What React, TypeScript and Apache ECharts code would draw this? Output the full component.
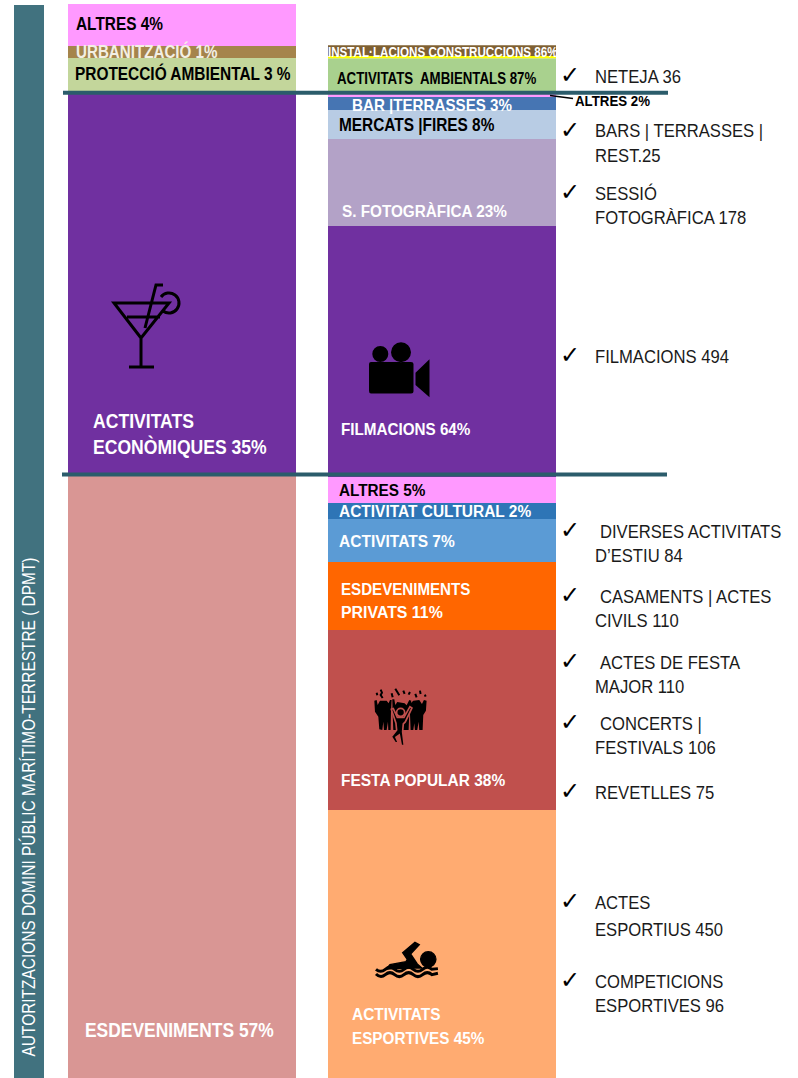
import React, { useEffect, useRef } from "react";
import * as echarts from "echarts";

const barCategories = ["Domini", "Detall"];

// bottom-to-top stacking order
const leftNames = ["Esdeveniments", "Activitats econòmiques", "Protecció ambiental", "Urbanització", "Altres"];
const leftValues = [56.14, 35.66, 3.17, 1.12, 3.91];
const leftColors = ["#d99694", "#7030a0", "#c3d69b", "#a5844b", "#ff99ff"];

const rightNames = [
  "Activitats esportives", "Festa popular", "Esdeveniments privats", "Activitats", "Activitat cultural", "Altres",
  "Filmacions", "S. fotogràfica", "Mercats", "Bar terrasses", "Altres 2", "Activitats ambientals", "Instal·lacions 2", "Instal·lacions",
];
const rightValues = [24.95, 16.76, 6.33, 4.0, 1.49, 2.42, 23.37, 8.1, 2.7, 1.21, 0.28, 3.35, 0.19, 1.02];
const rightColors = [
  "#ffab71", "#c0504d", "#ff6600", "#5b9bd5", "#2e75b6", "#ff99ff", "#7030a0", "#b3a2c7", "#b8cce4", "#4675b3",
  "#ff99ff", "#a9d18e", "#ffff00", "#7f6032",
];

const sideTitle = "AUTORITZACIONS DOMINI PÚBLIC MARÍTIMO-TERRESTRE ( DPMT)";

const barLabelTexts = [
  "ALTRES 4%", "URBANITZACIÓ 1%", "PROTECCIÓ AMBIENTAL 3 %", "ACTIVITATS", "ECONÒMIQUES 35%", "ESDEVENIMENTS 57%",
  "INSTAL·LACIONS CONSTRUCCIONS 86%", "ACTIVITATS  AMBIENTALS 87%", "BAR |TERRASSES 3%", "ALTRES 2%", "MERCATS |FIRES 8%",
  "S. FOTOGRÀFICA 23%", "FILMACIONS 64%", "ALTRES 5%", "ACTIVITAT CULTURAL 2%", "ACTIVITATS 7%", "ESDEVENIMENTS",
  "PRIVATS 11%", "FESTA POPULAR 38%", "ACTIVITATS", "ESPORTIVES 45%",
];
// x, middle y, font size, colour, horizontal squeeze
const barLabelLayout: [number, number, number, string, number][] = [
  [76, 24, 18.5, "#000", 0.833], [76, 52, 18.5, "#f3efe4", 0.82], [75, 74, 18.5, "#000", 0.834], [93, 421, 20, "#fff", 0.88], [93, 447, 20, "#fff", 0.879], [85, 1030, 20.5, "#fff", 0.85],
  [328, 52, 14, "#fff", 0.83], [337, 78.5, 16, "#000", 0.83], [352, 105, 16, "#fff", 0.947], [575, 101, 14, "#000", 0.95], [339, 124.5, 17.5, "#000", 0.88],
  [342, 210.5, 17, "#fff", 0.9], [341, 428.5, 17, "#fff", 0.896], [339, 490, 17, "#000", 0.9], [339, 510.5, 17, "#fff", 0.91], [339, 540.5, 17, "#fff", 0.913], [341, 588.5, 17, "#fff", 0.89],
  [341, 611.5, 17, "#fff", 0.935], [341, 780, 17, "#fff", 0.91], [352, 1014, 17, "#fff", 0.907], [352, 1038, 17, "#fff", 0.898],
];

const noteTexts = [
  "NETEJA 36", "BARS | TERRASSES |", "REST.25", "SESSIÓ", "FOTOGRÀFICA 178", "FILMACIONS 494",
  "DIVERSES ACTIVITATS", "D’ESTIU 84", "CASAMENTS | ACTES", "CIVILS 110", "ACTES DE FESTA", "MAJOR 110",
  "CONCERTS |", "FESTIVALS 106", "REVETLLES 75", "ACTES", "ESPORTIUS 450", "COMPETICIONS", "ESPORTIVES 96",
];
const noteLayout: [number, number][] = [
  [595, 77], [595, 131], [595, 156], [595, 194], [595, 218], [595, 357],
  [600, 532], [595, 556], [600, 597], [595, 621], [600, 663], [595, 687],
  [600, 724], [595, 748], [595, 793], [595, 903], [595, 930], [595, 982], [595, 1006],
];
const checkRows = [75, 130, 192, 355, 530, 595, 661, 722, 791, 901, 980];

const SANS = '"Liberation Sans", Arial, sans-serif';

echarts.graphic.registerShape("cocktailIcon", echarts.graphic.extendPath(
  "M114 303 L169 303 L141 338 Z M127 317 L160 317 M141 338 L141 367 M129 367 L154 367 M145 328 L156 285 L163 285 " +
  "M161 297 A10 10 0 1 1 163 311", {}));
echarts.graphic.registerShape("cameraIcon", echarts.graphic.extendPath(
  "M371 362 L411 362 Q413.5 362 413.5 364 L413.5 391 Q413.5 393.5 411 393.5 L371 393.5 Q369 393.5 369 391 L369 364 Q369 362 371 362 Z " +
  "M372.3 354 A8 8 0 1 0 388.3 354 A8 8 0 1 0 372.3 354 Z M391 352.3 A10 10 0 1 0 411 352.3 A10 10 0 1 0 391 352.3 Z " +
  "M415.5 372.7 L429.5 359.3 L429.5 397.3 L415.5 385 Z", {}));
echarts.graphic.registerShape("crowdIcon", echarts.graphic.extendPath(
  "M43 62 L50 60 L53 75 L60 62 L80 62 L86 70 L90 60 L95 60 L93 95 L92 150 L85 150 L84 125 L80 150 L72 150 L70 125 L67 150 L58 148 L55 110 L45 95 Z " +
  "M152 70 L160 62 L178 60 L186 72 L192 60 L200 62 L198 92 L190 105 L188 150 L178 150 L176 125 L172 150 L165 150 L163 130 L160 150 L152 150 L150 100 Z " +
  "M97 58 L103 58 L106 75 L112 66 L134 70 L140 76 L148 60 L154 62 L148 100 L146 150 L100 150 L98 100 Z", {}));
echarts.graphic.registerShape("crowdSparks", echarts.graphic.extendPath(
  "M50 38 L52 46 M62 29 L66 38 L62 45 L68 54 M95 40 L98 52 M106 26 L112 36 L118 46 M130 32 L134 42 M150 36 L146 44 M166 42 L170 52 M180 32 L182 42 M195 44 L197 50", {}));
echarts.graphic.registerShape("dancerIcon", echarts.graphic.extendPath(
  "M110 97 A12 12 0 1 0 134 97 A12 12 0 1 0 110 97 Z " +
  "M94 88 L100 86 L112 112 L132 112 L150 80 L156 84 L136 126 L130 132 L128 155 L133 197 L124 197 L118 165 L108 172 L114 186 L106 189 L94 170 L110 150 L108 130 Z", {}));
echarts.graphic.registerShape("swimmerBody", echarts.graphic.extendPath(
  "M128 68 L165 37 L178 44 L152 72 L172 102 L186 114 L150 114 L100 116 L78 118 L90 104 L138 95 L142 88 Z " +
  "M182 88 A23 23 0 1 0 228 88 A23 23 0 1 0 182 88 Z", {}));
echarts.graphic.registerShape("swimmerWaves", echarts.graphic.extendPath(
  "M48 118 Q62 130 76 118 T104 118 T132 118 T160 118 T188 118 T216 118 L234 116 " +
  "M48 132 Q62 146 76 134 T104 134 T132 134 T160 134 T188 134 T216 134 L234 130", {}));

function buildOption() {
  const bars = (names: string[], values: number[], colors: string[], slot: number) =>
    names.map((name, i) => ({
      name,
      type: "bar",
      stack: "all",
      barWidth: 228,
      silent: true,
      itemStyle: { color: colors[i] },
      data: slot === 0 ? [values[i], "-"] : ["-", values[i]],
    }));
  const textEl = (text: string, x: number, y: number, size: number, color: string, squeeze: number, weight = "bold") => ({
    type: "text",
    x,
    y,
    scaleX: squeeze,
    z: 50,
    silent: true,
    style: { text, fill: color, fontFamily: SANS, fontSize: size, fontWeight: weight, align: "left", verticalAlign: "middle" },
  });
  const icon = (type: string, x: number, y: number, scale: number, style: any) => ({
    type, x, y, scaleX: scale, scaleY: scale, z: 40, silent: true, style,
  });
  const elements: any[] = [
    { type: "rect", z: 1, shape: { x: 14, y: 5, width: 30, height: 1073 }, style: { fill: "#41727f" } },
    {
      type: "text", x: 29, y: 807, rotation: Math.PI / 2, scaleX: 0.858, z: 50,
      style: { text: sideTitle, fill: "#fff", fontFamily: SANS, fontSize: 18, fontWeight: "normal", align: "center", verticalAlign: "middle" },
    },
    ...barLabelTexts.map((t, i) => textEl(t, barLabelLayout[i][0], barLabelLayout[i][1], barLabelLayout[i][2], barLabelLayout[i][3], barLabelLayout[i][4])),
    ...noteTexts.map((t, i) => textEl(t, noteLayout[i][0], noteLayout[i][1], 19, "#1a1a1a", 0.875, "normal")),
    ...checkRows.map((y) => ({
      type: "text", x: 560, y, z: 50,
      style: { text: "✓", fill: "#000", fontFamily: "DejaVu Sans", fontSize: 24, align: "left", verticalAlign: "middle" },
    })),
    { type: "line", z: 45, shape: { x1: 63, y1: 92.7, x2: 668, y2: 92.7 }, style: { stroke: "#2b5c6b", lineWidth: 4 } },
    { type: "line", z: 45, shape: { x1: 62, y1: 474.5, x2: 667, y2: 474.5 }, style: { stroke: "#2b5c6b", lineWidth: 4 } },
    { type: "line", z: 45, shape: { x1: 550, y1: 95.5, x2: 573, y2: 98.5 }, style: { stroke: "#000", lineWidth: 1.5 } },
    icon("cocktailIcon", 0, 0, 1, { fill: null, stroke: "#000", lineWidth: 3 }),
    icon("cameraIcon", 0, 0, 1, { fill: "#000" }),
    icon("crowdIcon", 360, 680, 1 / 3, { fill: "#000" }),
    icon("crowdSparks", 360, 680, 1 / 3, { fill: null, stroke: "#000", lineWidth: 6 }),
    { ...icon("dancerIcon", 360, 680, 1 / 3, { fill: "#000", stroke: "#c0504d", lineWidth: 5 }), z: 41 },
    icon("swimmerBody", 360, 930, 1 / 3, { fill: "#000", stroke: "#000", lineWidth: 4 }),
    icon("swimmerWaves", 360, 930, 1 / 3, { fill: null, stroke: "#000", lineWidth: 9 }),
  ];
  return {
    animation: false,
    backgroundColor: "#fff",
    grid: { left: 52, width: 520, top: 4, height: 1074 },
    xAxis: { type: "category", data: barCategories, show: false },
    yAxis: { type: "value", min: 0, max: 100, show: false },
    series: [...bars(leftNames, leftValues, leftColors, 0), ...bars(rightNames, rightValues, rightColors, 1)],
    graphic: { elements },
  };
}

export default function App() {
  const ref = useRef<HTMLDivElement>(null);
  useEffect(() => {
    document.body.style.margin = "0";
    const chart = echarts.init(ref.current!, null, { renderer: "svg" });
    chart.setOption(buildOption() as any);
    return () => chart.dispose();
  }, []);
  return <div ref={ref} style={{ width: 798, height: 1078 }} />;
}
